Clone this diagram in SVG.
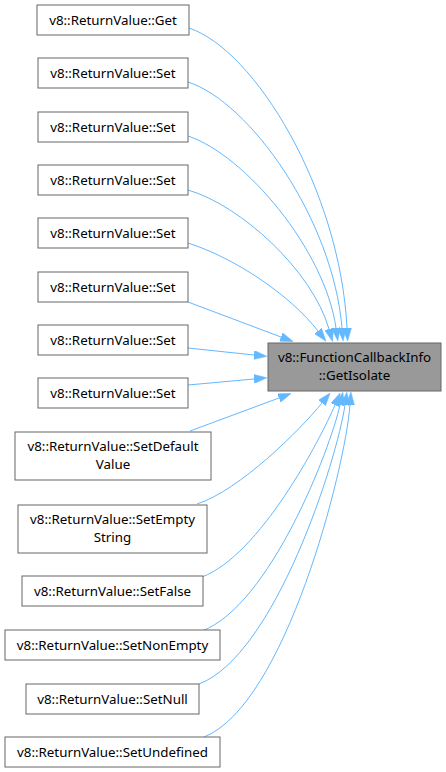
<svg xmlns="http://www.w3.org/2000/svg" width="446" height="772" viewBox="0 0 446 772">
<style>
.box{fill:#ffffff;stroke:#666666;stroke-width:1}
.tgt{fill:#999999;stroke:#666666;stroke-width:1}
text{font-family:"Noto Sans","DejaVu Sans",sans-serif;font-size:13.33px;fill:#000000;text-anchor:middle}
.edge{fill:none;stroke:#63b8ff;stroke-width:1;marker-end:url(#arr)}
</style>
<defs>
<marker id="arr" viewBox="0 0 13 9" markerUnits="userSpaceOnUse" markerWidth="13" markerHeight="9" refX="0" refY="4.5" orient="auto">
<path d="M0,0 L13,4.5 L0,9 z" fill="#63b8ff" stroke="#63b8ff" stroke-width="0.5"/>
</marker>
</defs>
<g id="connectors">
<path class="edge" d="M189,28 C255,50 340,190 347,328"/>
<path class="edge" d="M188,82 C250,102 333,220 342,328"/>
<path class="edge" d="M188,136 C245,155 325,250 336,328"/>
<path class="edge" d="M188,190 C240,205 312,270 329,329"/>
<path class="edge" d="M188,243 C235,258 290,295 318,331"/>
<path class="edge" d="M188,302 L281,337"/>
<path class="edge" d="M188,348 L254,355"/>
<path class="edge" d="M188,385 L254,379"/>
<path class="edge" d="M190,431 L279,398"/>
<path class="edge" d="M197,504 C240,490 300,430 322,403"/>
<path class="edge" d="M202,577 C260,555 320,440 335,405"/>
<path class="edge" d="M202,631 C270,605 330,450 340,405"/>
<path class="edge" d="M199,684 C275,655 337,460 345,405"/>
<path class="edge" d="M204,737 C285,705 345,470 350,405"/>
</g>
<g id="node-target"><rect class="tgt" x="268" y="343" width="173" height="48"/><text x="354.5" y="362">v8::FunctionCallbackInfo</text><text x="354.5" y="380">::GetIsolate</text></g>
<g id="node-get"><rect class="box" x="37" y="5" width="152" height="30"/><text x="113" y="25">v8::ReturnValue::Get</text></g>
<g id="node-set1"><rect class="box" x="38" y="58" width="150" height="30"/><text x="113" y="78">v8::ReturnValue::Set</text></g>
<g id="node-set2"><rect class="box" x="38" y="112" width="150" height="30"/><text x="113" y="132">v8::ReturnValue::Set</text></g>
<g id="node-set3"><rect class="box" x="38" y="165" width="150" height="30"/><text x="113" y="185">v8::ReturnValue::Set</text></g>
<g id="node-set4"><rect class="box" x="38" y="218" width="150" height="30"/><text x="113" y="238">v8::ReturnValue::Set</text></g>
<g id="node-set5"><rect class="box" x="38" y="272" width="150" height="30"/><text x="113" y="292">v8::ReturnValue::Set</text></g>
<g id="node-set6"><rect class="box" x="38" y="325" width="150" height="30"/><text x="113" y="345">v8::ReturnValue::Set</text></g>
<g id="node-set7"><rect class="box" x="38" y="378" width="150" height="30"/><text x="113" y="398">v8::ReturnValue::Set</text></g>
<g id="node-setdefault"><rect class="box" x="15" y="432" width="196" height="48"/><text x="113" y="451">v8::ReturnValue::SetDefault</text><text x="113" y="469">Value</text></g>
<g id="node-setempty"><rect class="box" x="18" y="505" width="189" height="48"/><text x="112.5" y="524">v8::ReturnValue::SetEmpty</text><text x="112.5" y="542">String</text></g>
<g id="node-setfalse"><rect class="box" x="22" y="576" width="181" height="30"/><text x="112.5" y="596">v8::ReturnValue::SetFalse</text></g>
<g id="node-setnonempty"><rect class="box" x="5" y="630" width="215" height="30"/><text x="112.5" y="650">v8::ReturnValue::SetNonEmpty</text></g>
<g id="node-setnull"><rect class="box" x="26" y="684" width="173" height="30"/><text x="112.5" y="704">v8::ReturnValue::SetNull</text></g>
<g id="node-setundefined"><rect class="box" x="5" y="737" width="215" height="30"/><text x="112.5" y="757">v8::ReturnValue::SetUndefined</text></g>
</svg>
